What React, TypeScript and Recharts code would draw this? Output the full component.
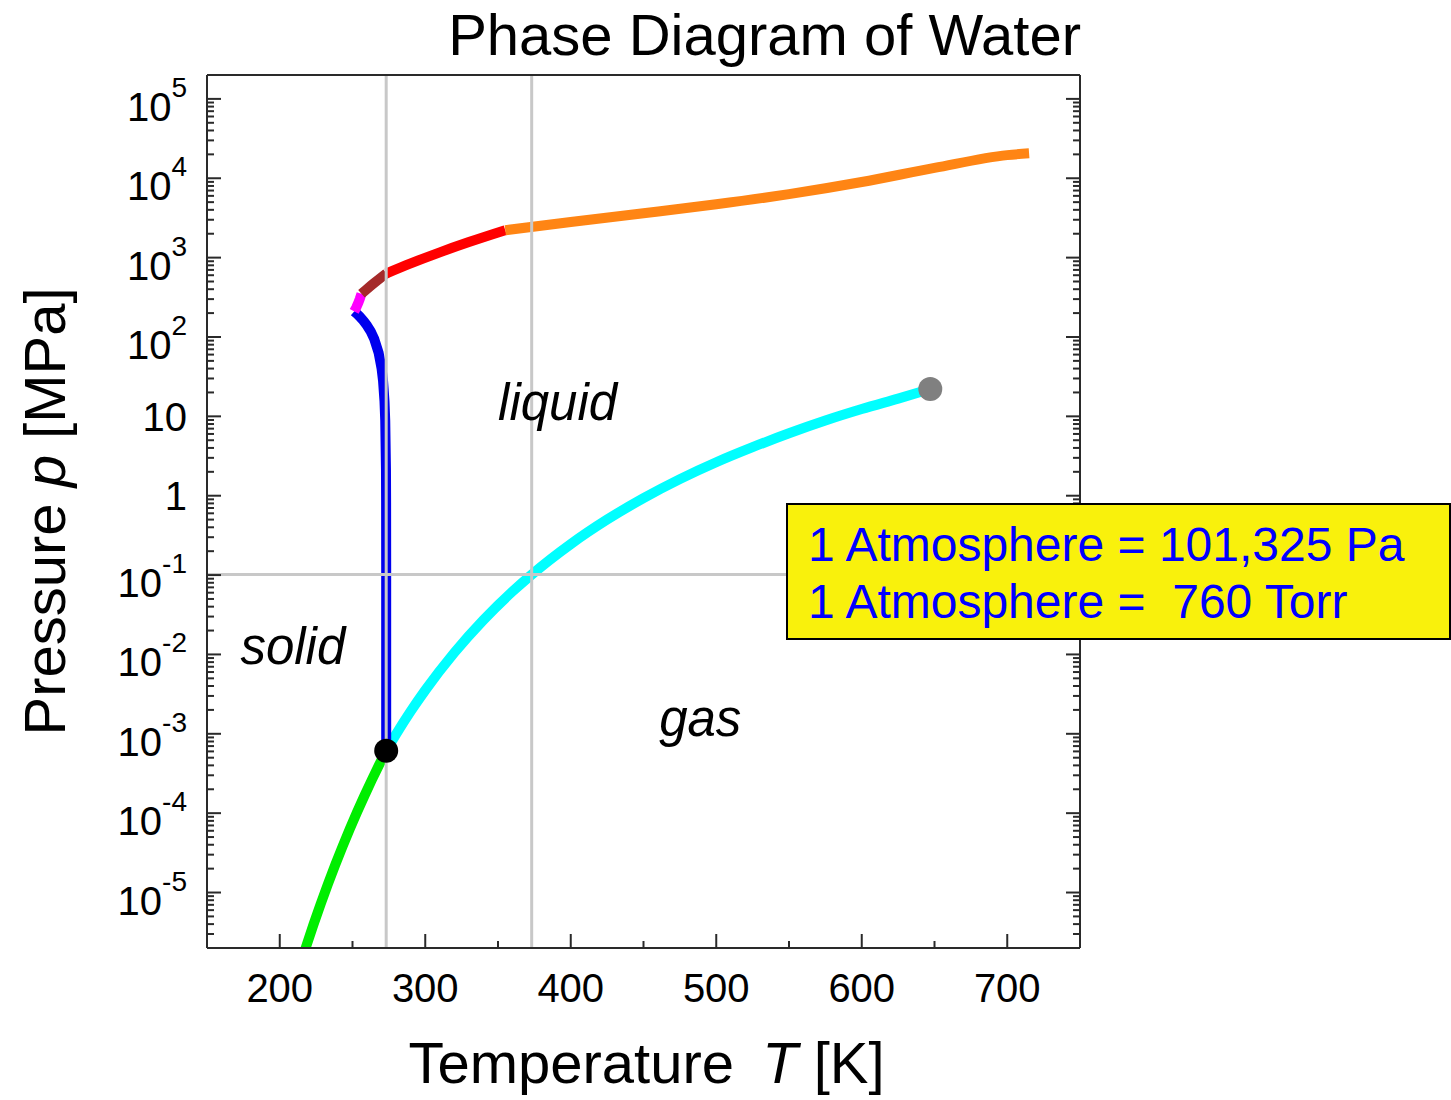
import React from 'react';
import { ComposedChart, Line, XAxis, YAxis, ReferenceLine, ReferenceDot, Label } from 'recharts';

// phase boundaries of water, T in K, p in MPa
const sublimation = [
  { T: 213.15, p: 1.08e-6 },
  { T: 218.15, p: 2.09e-6 },
  { T: 223.15, p: 3.94e-6 },
  { T: 228.15, p: 7.2e-6 },
  { T: 233.15, p: 1.284e-5 },
  { T: 238.15, p: 2.235e-5 },
  { T: 243.15, p: 3.801e-5 },
  { T: 248.15, p: 6.329e-5 },
  { T: 253.15, p: 1.0326e-4 },
  { T: 258.15, p: 1.653e-4 },
  { T: 263.15, p: 2.599e-4 },
  { T: 268.15, p: 4.018e-4 },
  { T: 273.16, p: 6.11657e-4 },
];

const vaporization = [
  { T: 273.16, p: 6.11657e-4 },
  { T: 280, p: 9.918e-4 },
  { T: 290, p: 1.92e-3 },
  { T: 300, p: 3.5368e-3 },
  { T: 320, p: 0.010547 },
  { T: 340, p: 0.027188 },
  { T: 360, p: 0.062194 },
  { T: 373.15, p: 0.101418 },
  { T: 400, p: 0.24577 },
  { T: 425, p: 0.50031 },
  { T: 450, p: 0.9322 },
  { T: 475, p: 1.6184 },
  { T: 500, p: 2.6392 },
  { T: 525, p: 4.0839 },
  { T: 550, p: 6.1172 },
  { T: 575, p: 8.851 },
  { T: 600, p: 12.345 },
  { T: 625, p: 16.74 },
  { T: 647.1, p: 22.064 },
];

const meltIceIh = [
  { T: 273.16, p: 6.11657e-4 },
  { T: 273.15, p: 0.136 },
  { T: 273.1, p: 0.814 },
  { T: 273.0, p: 2.16 },
  { T: 272.5, p: 8.82 },
  { T: 272.0, p: 15.3 },
  { T: 271.0, p: 27.9 },
  { T: 270.0, p: 40.0 },
  { T: 268.0, p: 62.65 },
  { T: 265.0, p: 93.65 },
  { T: 262.5, p: 117.3 },
  { T: 260.0, p: 139.4 },
  { T: 257.5, p: 160.3 },
  { T: 255.0, p: 180.3 },
  { T: 253.0, p: 195.9 },
  { T: 251.165, p: 209.9 },
];

const meltIceIII = [
  { T: 251.165, p: 209.9 },
  { T: 252.5, p: 233.1 },
  { T: 254.0, p: 269.5 },
  { T: 255.0, p: 301.8 },
  { T: 256.164, p: 350.1 },
];

const meltIceV = [
  { T: 256.164, p: 350.1 },
  { T: 260, p: 402.6 },
  { T: 265, p: 479.6 },
  { T: 270, p: 567.6 },
  { T: 273.31, p: 632.4 },
];

const meltIceVI = [
  { T: 273.31, p: 632.4 },
  { T: 290, p: 845.4 },
  { T: 310, p: 1166.1 },
  { T: 330, p: 1570.2 },
  { T: 355, p: 2216 },
];

const meltIceVII = [
  { T: 355, p: 2216 },
  { T: 400, p: 2817 },
  { T: 450, p: 3619 },
  { T: 500, p: 4695 },
  { T: 550, p: 6308 },
  { T: 600, p: 8965 },
  { T: 650, p: 13488 },
  { T: 700, p: 19555 },
  { T: 715, p: 20618 },
];

const triplePoint = { T: 273.16, p: 6.11657e-4 };
const criticalPoint = { T: 647.1, p: 22.064 };
const freezingT = 273.16;
const boilingT = 373.15;
const atmosphereP = 0.101325;

const regions = [
  { name: 'liquid', T: 391, p: 13 },
  { name: 'solid', T: 209, p: 0.0112 },
  { name: 'gas', T: 489, p: 0.00138 },
];

const xTicks = [200, 250, 300, 350, 400, 450, 500, 550, 600, 650, 700];
const yMajor = [1e-5, 1e-4, 1e-3, 1e-2, 1e-1, 1, 10, 1e2, 1e3, 1e4, 1e5];
const yMajorLabels: [string, string][] = [
  ['10', '-5'], ['10', '-4'], ['10', '-3'], ['10', '-2'], ['10', '-1'],
  ['1', ''], ['10', ''], ['10', '2'], ['10', '3'], ['10', '4'], ['10', '5'],
];
const yMinorSteps = [2, 3, 4, 5, 6, 7, 8, 9];
const yDomain: [number, number] = [2e-6, 2e5];
const yTicks = [
  ...yMajor,
  ...[1e-6, ...yMajor].flatMap((d) => yMinorSteps.map((m) => m * d)),
].filter((v) => v > 2.01e-6 && v < 1.99e5);

const FONT = '"Liberation Sans", Arial, Helvetica, sans-serif';
const AXIS = '#2a2a2a';
const GRID = '#c8c8c8';

const majorIndex = (v: number) => yMajor.findIndex((m) => Math.abs(m - v) / m < 1e-6);

const LeftTick = (props: any) => {
  const { x, y, payload } = props;
  const i = majorIndex(payload.value);
  const len = i >= 0 ? 14 : 7;
  let label = null;
  if (i >= 0) {
    const [base, exp] = yMajorLabels[i];
    label = exp ? (
      <text x={x - 20} y={y + 22} textAnchor="end" fontSize={40} fontFamily={FONT} fill="#000">
        <tspan>{base}</tspan>
        <tspan dy={-24} fontSize={28}>{exp}</tspan>
      </text>
    ) : (
      <text x={x - 20} y={y + 14.5} textAnchor="end" fontSize={40} fontFamily={FONT} fill="#000">
        {base}
      </text>
    );
  }
  return (
    <g>
      <line x1={x} x2={x + len} y1={y} y2={y} stroke={AXIS} strokeWidth={2} />
      {label}
    </g>
  );
};

const RightTick = (props: any) => {
  const { x, y, payload } = props;
  const len = majorIndex(payload.value) >= 0 ? 14 : 7;
  return <line x1={x} x2={x - len} y1={y} y2={y} stroke={AXIS} strokeWidth={2} />;
};

const BottomTick = (props: any) => {
  const { x, y, payload } = props;
  const major = payload.value % 100 === 0;
  return (
    <g>
      <line x1={x} x2={x} y1={y} y2={y - (major ? 14 : 7)} stroke={AXIS} strokeWidth={2} />
      {major && (
        <text x={x} y={y + 54} textAnchor="middle" fontSize={40} fontFamily={FONT} fill="#000">
          {payload.value}
        </text>
      )}
    </g>
  );
};

const TopTick = (props: any) => {
  const { x, y, payload } = props;
  const major = payload.value % 100 === 0;
  return <line x1={x} x2={x} y1={y} y2={y + (major ? 14 : 7)} stroke={AXIS} strokeWidth={2} />;
};

const curves = [
  { data: sublimation, color: '#00ee00', type: 'monotone' },
  { data: vaporization, color: '#00ffff', type: 'monotone' },
  { data: meltIceIh, color: '#0000ee', type: 'linear' },
  { data: meltIceIII, color: '#ff00ff', type: 'linear' },
  { data: meltIceV, color: '#a52a2a', type: 'monotone' },
  { data: meltIceVI, color: '#ff0000', type: 'monotone' },
  { data: meltIceVII, color: '#ff8514', type: 'monotone' },
];

export default function App() {
  return (
    <div style={{ position: 'absolute', left: 0, top: 0, width: 1451, height: 1100, background: '#fff', fontFamily: FONT }}>
      <ComposedChart width={1451} height={1100} margin={{ top: 0, right: 0, bottom: 0, left: 0 }}>
        <XAxis
          dataKey="T"
          type="number"
          domain={[150, 750]}
          allowDataOverflow
          ticks={xTicks}
          interval={0}
          height={152}
          tickSize={0}
          tickMargin={0}
          tickLine={false}
          tick={<BottomTick />}
          axisLine={{ stroke: AXIS, strokeWidth: 2 }}
        >
          <Label
            content={(p: any) => {
              const vb = p.viewBox;
              return (
                <text x={vb.x + vb.width / 2 + 3} y={vb.y + 135} textAnchor="middle" fontSize={58} fontFamily={FONT} fill="#000">
                  <tspan>Temperature </tspan>
                  <tspan fontStyle="italic" dx={12}>T</tspan>
                  <tspan> [K]</tspan>
                </text>
              );
            }}
          />
        </XAxis>
        <XAxis
          xAxisId="top"
          orientation="top"
          type="number"
          domain={[150, 750]}
          allowDataOverflow
          ticks={xTicks}
          interval={0}
          height={75}
          tickSize={0}
          tickMargin={0}
          tickLine={false}
          tick={<TopTick />}
          axisLine={{ stroke: AXIS, strokeWidth: 2 }}
        >
          <Label
            content={(p: any) => {
              const vb = p.viewBox;
              return (
                <text x={vb.x + vb.width + 1} y={vb.y + 55} textAnchor="end" fontSize={58} fontFamily={FONT} fill="#000">
                  Phase Diagram of Water
                </text>
              );
            }}
          />
        </XAxis>
        <YAxis
          type="number"
          scale="log"
          domain={yDomain}
          allowDataOverflow
          ticks={yTicks}
          interval={0}
          width={207}
          tickSize={0}
          tickMargin={0}
          tickLine={false}
          tick={<LeftTick />}
          axisLine={{ stroke: AXIS, strokeWidth: 2 }}
        >
          <Label
            content={(p: any) => {
              const vb = p.viewBox;
              const cx = 65;
              const cy = vb.y + vb.height / 2;
              return (
                <text x={cx} y={cy} transform={`rotate(-90 ${cx} ${cy})`} textAnchor="middle" fontSize={58} fontFamily={FONT} fill="#000">
                  <tspan>Pressure </tspan>
                  <tspan fontStyle="italic">p</tspan>
                  <tspan> [MPa]</tspan>
                </text>
              );
            }}
          />
        </YAxis>
        <YAxis
          yAxisId="right"
          orientation="right"
          type="number"
          scale="log"
          domain={yDomain}
          allowDataOverflow
          ticks={yTicks}
          interval={0}
          width={371}
          tickSize={0}
          tickMargin={0}
          tickLine={false}
          tick={<RightTick />}
          axisLine={{ stroke: AXIS, strokeWidth: 2 }}
        />

        {curves.map((c, i) => (
          <Line
            key={i}
            data={c.data}
            dataKey="p"
            type={c.type as any}
            stroke={c.color}
            strokeWidth={10}
            strokeLinejoin="round"
            dot={false}
            activeDot={false}
            isAnimationActive={false}
          />
        ))}

        <ReferenceLine x={freezingT} stroke={GRID} strokeWidth={3} />
        <ReferenceLine x={boilingT} stroke={GRID} strokeWidth={3} />
        <ReferenceLine y={atmosphereP} stroke={GRID} strokeWidth={3} />

        <ReferenceDot x={triplePoint.T} y={triplePoint.p} r={12} fill="#000" stroke="none" />
        <ReferenceDot x={criticalPoint.T} y={criticalPoint.p} r={12} fill="#808080" stroke="none" />

        {regions.map((r) => (
          <ReferenceDot
            key={r.name}
            x={r.T}
            y={r.p}
            r={0}
            fill="none"
            stroke="none"
            label={(p: any) => {
              const vb = p.viewBox;
              return (
                <text x={vb.x} y={vb.y + 13} textAnchor="middle" fontSize={51} fontStyle="italic" fontFamily={FONT} fill="#000">
                  {r.name}
                </text>
              );
            }}
          />
        ))}
      </ComposedChart>

      <div
        style={{
          position: 'absolute',
          left: 786,
          top: 503,
          width: 665,
          height: 137,
          boxSizing: 'border-box',
          background: '#f9f10c',
          border: '2px solid #000',
          color: '#0000ff',
          fontSize: 48,
          lineHeight: '57px',
          paddingTop: 11,
          paddingLeft: 20,
          whiteSpace: 'pre',
          fontFamily: FONT,
        }}
      >
        <div>1 Atmosphere = 101,325 Pa</div>
        <div>1 Atmosphere =  760 Torr</div>
      </div>
    </div>
  );
}
